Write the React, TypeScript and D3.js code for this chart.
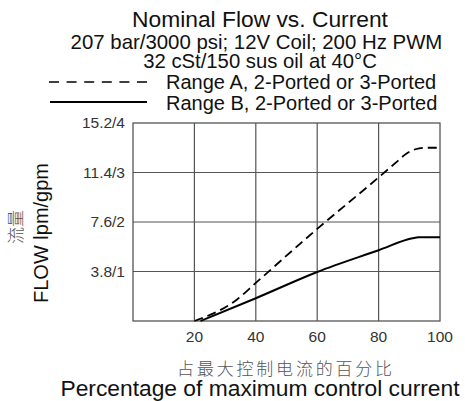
import React from 'react';
import * as d3 from 'd3';

// Range A (dashed) — % of max current vs flow (gpm)
const currentA = [20, 34, 40, 60, 80, 86, 89, 92, 95, 99];
const flowA = [0, 0.44, 0.77, 1.86, 2.9, 3.22, 3.38, 3.47, 3.5, 3.5];

// Range B (solid)
const currentB = [22, 40, 60, 80, 91, 93, 100];
const flowB = [0, 0.46, 0.99, 1.43, 1.67, 1.69, 1.69];

const xTicks = [20, 40, 60, 80, 100];
const yTicks = [1, 2, 3, 4];
const yTickLabels = ['3.8/1', '7.6/2', '11.4/3', '15.2/4'];

const titleLines = [
  'Nominal Flow vs. Current',
  '207 bar/3000 psi; 12V Coil; 200 Hz PWM',
  '32 cSt/150 sus oil at 40°C',
];
const legendLabels = ['Range A, 2-Ported or 3-Ported', 'Range B, 2-Ported or 3-Ported'];

const W = 465;
const H = 401;
const font = '"Liberation Sans", Arial, sans-serif';
const cjk = '"Noto Sans CJK SC", sans-serif';

const App: React.FC = () => {
  const margin = { top: 123, right: 25, bottom: 80, left: 133 };
  const x = d3.scaleLinear().domain([0, 100]).range([margin.left, W - margin.right]);
  const y = d3.scaleLinear().domain([0, 4]).range([H - margin.bottom, margin.top]);

  const line = d3
    .line<[number, number]>()
    .x(d => x(d[0]))
    .y(d => y(d[1]))
    .curve(d3.curveMonotoneX);

  const ptsA = currentA.map((c, i) => [c, flowA[i]] as [number, number]);
  const ptsB = currentB.map((c, i) => [c, flowB[i]] as [number, number]);

  const grid = '#555';

  return (
    <svg width={W} height={H} style={{ position: 'absolute', left: 0, top: 0 }}>
      <rect width={W} height={H} fill="#fff" />

      {/* title block */}
      <text x={260} y={27} textAnchor="middle" fontFamily={font} fontSize={22.8} fill="#111">
        {titleLines[0]}
      </text>
      <text x={256.5} y={48.5} textAnchor="middle" fontFamily={font} fontSize={20.4} fill="#111">
        {titleLines[1]}
      </text>
      <text x={260} y={68} textAnchor="middle" fontFamily={font} fontSize={20.3} fill="#111">
        {titleLines[2]}
      </text>

      {/* legend */}
      <line x1={49} x2={147} y1={82} y2={82} stroke="#000" strokeWidth={1.6} strokeDasharray="10 7.6" />
      <text x={166} y={89} fontFamily={font} fontSize={20} fill="#111">
        {legendLabels[0]}
      </text>
      <line x1={50} x2={147} y1={102} y2={102} stroke="#000" strokeWidth={1.8} />
      <text x={166} y={110} fontFamily={font} fontSize={20} fill="#111">
        {legendLabels[1]}
      </text>

      {/* grid */}
      {xTicks.slice(0, -1).map(t => (
        <line key={'gx' + t} x1={x(t)} x2={x(t)} y1={y(0)} y2={y(4)} stroke={grid} strokeWidth={1.2} />
      ))}
      {yTicks.slice(0, -1).map(t => (
        <line key={'gy' + t} x1={x(0)} x2={x(100)} y1={y(t)} y2={y(t)} stroke={grid} strokeWidth={1.2} />
      ))}
      <rect
        x={x(0)}
        y={y(4)}
        width={x(100) - x(0)}
        height={y(0) - y(4)}
        fill="none"
        stroke={grid}
        strokeWidth={1.3}
      />

      {/* curves */}
      <path d={line(ptsA) ?? ''} fill="none" stroke="#000" strokeWidth={1.8} strokeDasharray="9 5" />
      <path d={line(ptsB) ?? ''} fill="none" stroke="#000" strokeWidth={2} />

      {/* tick labels */}
      {yTicks.map((t, i) => (
        <text
          key={'ty' + t}
          x={125}
          y={y(t)}
          dy="0.35em"
          textAnchor="end"
          fontFamily={font}
          fontSize={15.5}
          fill="#333"
        >
          {yTickLabels[i]}
        </text>
      ))}
      {xTicks.map(t => (
        <text key={'tx' + t} x={x(t)} y={342} textAnchor="middle" fontFamily={font} fontSize={15.5} fill="#333">
          {t}
        </text>
      ))}

      {/* axis titles */}
      <text
        transform="translate(22,227) rotate(-90)"
        textAnchor="middle"
        fontFamily={cjk}
        fontSize={17}
        fontWeight={300}
        fill="#555"
      >
        流量
      </text>
      <text
        transform="translate(48,233) rotate(-90)"
        textAnchor="middle"
        fontFamily={font}
        fontSize={20}
        fill="#111"
      >
        FLOW lpm/gpm
      </text>
      <text
        x={286}
        y={375}
        textAnchor="middle"
        fontFamily={cjk}
        fontSize={17}
        fontWeight={300}
        letterSpacing={2.8}
        fill="#555"
      >
        占最大控制电流的百分比
      </text>
      <text x={260} y={395.5} textAnchor="middle" fontFamily={font} fontSize={22.8} fill="#111">
        Percentage of maximum control current
      </text>
    </svg>
  );
};

export default App;
